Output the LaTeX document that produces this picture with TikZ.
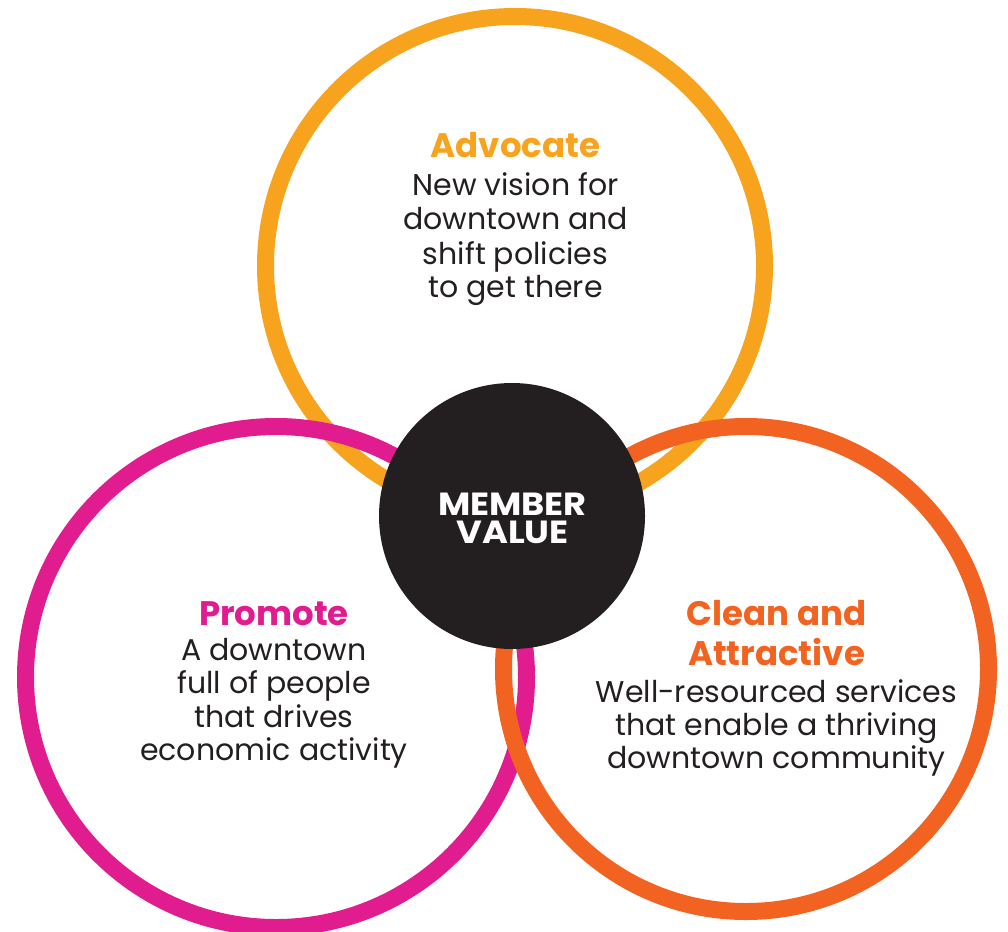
\documentclass[tikz,border=0pt]{standalone}
\usepackage{fontspec}
\setmainfont{Poppins}
\definecolor{advo}{HTML}{F8A31E}
\definecolor{prom}{HTML}{E11C8F}
\definecolor{clean}{HTML}{F26322}
\definecolor{ink}{HTML}{231F20}
\begin{document}
\begin{tikzpicture}[x=1pt,y=-1pt,
  ring/.style={circle, draw=#1, line width=17pt, inner sep=0pt, fill=none},
  ttl/.style={anchor=base, inner sep=0pt, text=#1, font=\fontsize{34}{34}\selectfont\bfseries},
  body/.style={anchor=base, inner sep=0pt, text=ink, font=\fontsize{30}{30}\selectfont},
  mvtext/.style={anchor=base, inner sep=0pt, text height=23pt, text depth=0pt, text=white, font=\fontsize{32}{32}\selectfont\bfseries\addfontfeature{FakeStretch=1.1}},
]
\useasboundingbox (0,0) rectangle (1008,931);
\clip (0,0) rectangle (1008,931);
\node[ring=advo, minimum size=499pt] (advring) at (515,266) {};
\node[ring=prom, minimum size=501pt] (promring) at (276,677) {};
\node[ring=clean, minimum size=485pt] (cleanring) at (746,669) {};
\node[circle, fill=ink, inner sep=0pt, minimum size=266pt] (mv) at (512,516) {};

\node[mvtext] (mv1) at (512.5,515) {MEMBER};
\node[mvtext] (mv2) at (512.5,543) {VALUE};

\node[ttl=advo] (a0) at (515.5,157) {Advocate};
\node[body] (a1) at (515.5,195) {New vision for};
\node[body] (a2) at (515.5,229) {downtown and};
\node[body] (a3) at (515.5,264) {shift policies};
\node[body] (a4) at (515.5,297) {to get there};

\node[ttl=prom] (p0) at (274,625) {Promote};
\node[body] (p1) at (274,660) {A downtown};
\node[body] (p2) at (274,693) {full of people};
\node[body] (p3) at (274,727) {that drives};
\node[body] (p4) at (274,760) {economic activity};

\node[ttl=clean] (c0) at (776.5,625) {Clean and};
\node[ttl=clean] (c1) at (776.5,665) {Attractive};
\node[body] (c2) at (776.5,702) {Well-resourced services};
\node[body] (c3) at (776.5,735) {that enable a thriving};
\node[body] (c4) at (776.5,768) {downtown community};
\end{tikzpicture}
\end{document}
